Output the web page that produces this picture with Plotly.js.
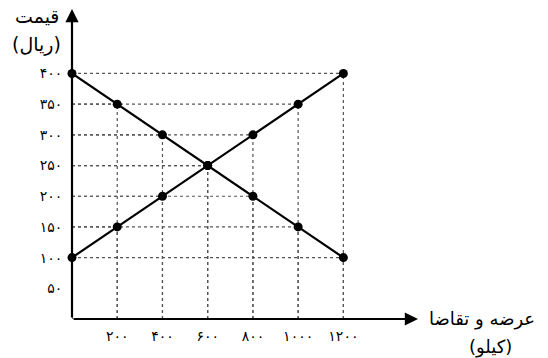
<!DOCTYPE html>
<html>
<head>
<meta charset="utf-8">
<script src="https://cdn.plot.ly/plotly-3.0.1.min.js"></script>
<style>
  html, body { margin: 0; padding: 0; background: #fff; }
  #chart { width: 548px; height: 358px; }
</style>
</head>
<body>
<div id="chart"></div>
<script>
// quantity (kilo) and price (rial)
var quantity = [0, 200, 400, 600, 800, 1000, 1200];
var supply = [100, 150, 200, 250, 300, 350, 400];
var demand = [400, 350, 300, 250, 200, 150, 100];

var xTickVals = [200, 400, 600, 800, 1000, 1200];
var xTickText = ['۲۰۰', '۴۰۰', '۶۰۰', '۸۰۰', '۱۰۰۰', '۱۲۰۰'];
var yTickVals = [50, 100, 150, 200, 250, 300, 350, 400];
var yTickText = ['۵۰', '۱۰۰', '۱۵۰', '۲۰۰', '۲۵۰', '۳۰۰', '۳۵۰', '۴۰۰'];

var FONT = 'DejaVu Sans, sans-serif';

// dotted guide lines from each point back to both axes
var gx = [], gy = [];
[supply, demand].forEach(function (ys) {
  for (var i = 0; i < quantity.length; i++) {
    gx.push(0, quantity[i], null, quantity[i], quantity[i], null);
    gy.push(ys[i], ys[i], null, 0, ys[i], null);
  }
});

var traces = [
  { x: gx, y: gy, type: 'scatter', mode: 'lines', connectgaps: false,
    line: { color: '#555', width: 1.2, dash: 'dot' }, hoverinfo: 'skip' },
  { x: quantity, y: supply, name: 'عرضه', type: 'scatter', mode: 'lines+markers',
    line: { color: '#000', width: 2.2 }, marker: { color: '#000', size: 9 }, cliponaxis: false },
  { x: quantity, y: demand, name: 'تقاضا', type: 'scatter', mode: 'lines+markers',
    line: { color: '#000', width: 2.2 }, marker: { color: '#000', size: 9 }, cliponaxis: false }
];

var layout = {
  width: 548, height: 358,
  margin: { l: 72, r: 130, t: 9, b: 39 },
  paper_bgcolor: '#fff', plot_bgcolor: '#fff',
  showlegend: false,
  font: { family: FONT, color: '#000', size: 14 },
  xaxis: { range: [0, 1530], tickvals: xTickVals, ticktext: xTickText,
           tickfont: { family: FONT, size: 14 },
           showgrid: false, zeroline: false, showline: false,
           ticks: 'outside', ticklen: 4, tickcolor: 'rgba(0,0,0,0)' },
  yaxis: { range: [0, 505], tickvals: yTickVals, ticktext: yTickText,
           tickfont: { family: FONT, size: 14 },
           showgrid: false, zeroline: false, showline: false,
           ticks: 'outside', ticklen: 6, tickcolor: 'rgba(0,0,0,0)' },
  annotations: [
    // axis arrows
    { x: 1530, y: 0, ax: 0, ay: 0, xref: 'x', yref: 'y', axref: 'x', ayref: 'y',
      text: '', showarrow: true, arrowhead: 2, arrowsize: 1.2, arrowwidth: 2.2, arrowcolor: '#000' },
    { x: 0, y: 505, ax: 0, ay: 0, xref: 'x', yref: 'y', axref: 'x', ayref: 'y',
      text: '', showarrow: true, arrowhead: 2, arrowsize: 1.2, arrowwidth: 2.2, arrowcolor: '#000' },
    // axis titles
    { xref: 'paper', yref: 'paper', x: -0.101, y: 0.976, text: 'قیمت', showarrow: false,
      xanchor: 'center', yanchor: 'middle', font: { family: FONT, size: 19 } },
    { xref: 'paper', yref: 'paper', x: -0.104, y: 0.886, text: '(ریال)', showarrow: false,
      xanchor: 'center', yanchor: 'middle', font: { family: FONT, size: 19 } },
    { xref: 'paper', yref: 'paper', x: 1.027, y: 0.0, text: 'عرضه و تقاضا', showarrow: false,
      xanchor: 'left', yanchor: 'middle', font: { family: FONT, size: 18 } },
    { xref: 'paper', yref: 'paper', x: 1.209, y: -0.09, text: '(کیلو)', showarrow: false,
      xanchor: 'center', yanchor: 'middle', font: { family: FONT, size: 18 } }
  ]
};

Plotly.newPlot('chart', traces, layout, { displayModeBar: false, staticPlot: true });
</script>
</body>
</html>
